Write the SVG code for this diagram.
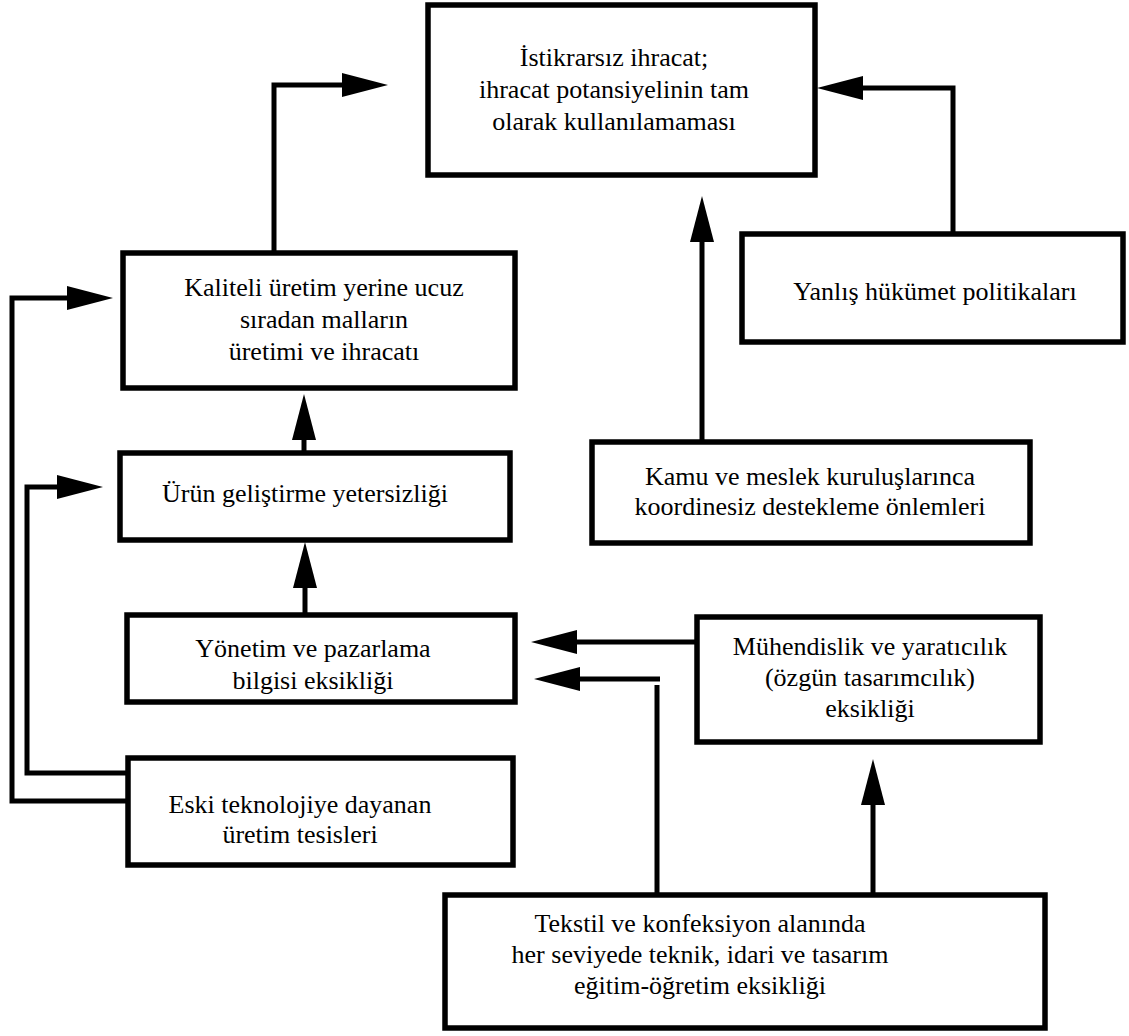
<svg xmlns="http://www.w3.org/2000/svg" width="1129" height="1036" viewBox="0 0 1129 1036">
<style>
.box{fill:#fff;stroke:#000;stroke-width:5.5}
.ln{fill:none;stroke:#000;stroke-width:5}
.t{font-family:'Liberation Serif','DejaVu Serif','Times New Roman',serif;font-size:26px;fill:#000;text-anchor:middle}
</style>
<defs>
<marker id="ah" markerUnits="userSpaceOnUse" markerWidth="48" markerHeight="26" refX="0" refY="12" orient="auto" overflow="visible">
<path d="M0,0 L46,12 L0,24 Z" fill="#000"/>
</marker>
</defs>
<rect width="1129" height="1036" fill="#fff"/>
<g id="connectors">
<path class="ln" d="M274,253 V85 H342" marker-end="url(#ah)"/>
<path class="ln" d="M953,234 V88 H863" marker-end="url(#ah)"/>
<path class="ln" d="M702,442 V242" marker-end="url(#ah)"/>
<path class="ln" d="M304,453 V440" marker-end="url(#ah)"/>
<path class="ln" d="M305,615 V588" marker-end="url(#ah)"/>
<path class="ln" d="M697,642 H577" marker-end="url(#ah)"/>
<path class="ln" d="M657,895 V685"/>
<path class="ln" d="M660,679 H580" marker-end="url(#ah)"/>
<path class="ln" d="M873,895 V805" marker-end="url(#ah)"/>
<path class="ln" d="M128,801 H12 V298 H67" marker-end="url(#ah)"/>
<path class="ln" d="M128,773 H27 V487 H57" marker-end="url(#ah)"/>
</g>
<g id="n-top">
<rect class="box" x="428" y="5" width="387" height="170"/>
<text class="t" x="614" y="66">İstikrarsız ihracat;</text>
<text class="t" x="614" y="98">ihracat potansiyelinin tam</text>
<text class="t" x="614" y="130">olarak kullanılamaması</text>
</g>
<g id="n-kaliteli">
<rect class="box" x="123" y="253" width="392" height="135"/>
<text class="t" x="324" y="296">Kaliteli üretim yerine ucuz</text>
<text class="t" x="324" y="328">sıradan malların</text>
<text class="t" x="324" y="360">üretimi ve ihracatı</text>
</g>
<g id="n-urun">
<rect class="box" x="120" y="453" width="390" height="87"/>
<text class="t" x="305" y="502">Ürün geliştirme yetersizliği</text>
</g>
<g id="n-yonetim">
<rect class="box" x="127" y="615" width="388" height="87"/>
<text class="t" x="313" y="657">Yönetim ve pazarlama</text>
<text class="t" x="313" y="689">bilgisi eksikliği</text>
</g>
<g id="n-eski">
<rect class="box" x="128" y="758" width="385" height="107"/>
<text class="t" x="300" y="813">Eski teknolojiye dayanan</text>
<text class="t" x="300" y="843">üretim tesisleri</text>
</g>
<g id="n-yanlis">
<rect class="box" x="742" y="234" width="381" height="108"/>
<text class="t" x="935" y="300">Yanlış hükümet politikaları</text>
</g>
<g id="n-kamu">
<rect class="box" x="592" y="442" width="438" height="101"/>
<text class="t" x="810" y="485">Kamu ve meslek kuruluşlarınca</text>
<text class="t" x="810" y="515">koordinesiz destekleme önlemleri</text>
</g>
<g id="n-muhendislik">
<rect class="box" x="697" y="617" width="343" height="125"/>
<text class="t" x="870" y="655">Mühendislik ve yaratıcılık</text>
<text class="t" x="870" y="686">(özgün tasarımcılık)</text>
<text class="t" x="870" y="717">eksikliği</text>
</g>
<g id="n-tekstil">
<rect class="box" x="445" y="895" width="600" height="133"/>
<text class="t" x="700" y="932">Tekstil ve konfeksiyon alanında</text>
<text class="t" x="700" y="963">her seviyede teknik, idari ve tasarım</text>
<text class="t" x="700" y="994">eğitim-öğretim eksikliği</text>
</g>
</svg>
